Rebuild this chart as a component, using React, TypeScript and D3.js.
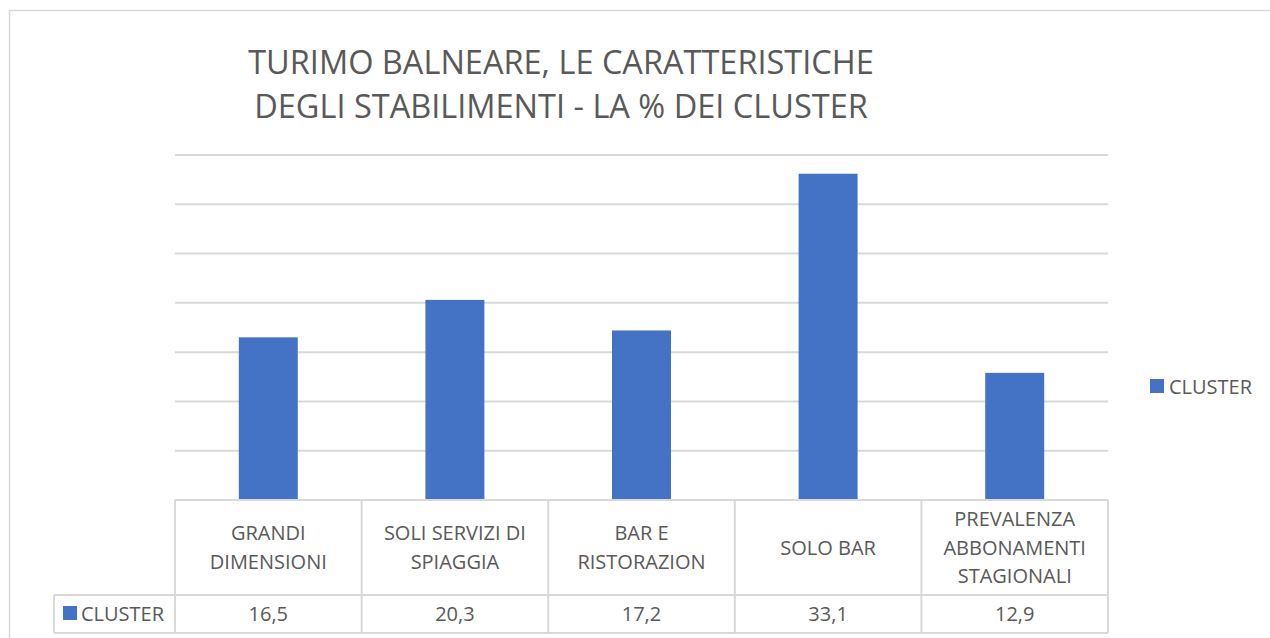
import React, { useEffect, useRef } from 'react';
import * as d3 from 'd3';

const categories = [
  ['GRANDI', 'DIMENSIONI'],
  ['SOLI SERVIZI DI', 'SPIAGGIA'],
  ['BAR E', 'RISTORAZION'],
  ['SOLO BAR'],
  ['PREVALENZA', 'ABBONAMENTI', 'STAGIONALI'],
];
const clusterValues = [16.5, 20.3, 17.2, 33.1, 12.9];
const seriesName = 'CLUSTER';
const titleLines = ['TURIMO BALNEARE, LE CARATTERISTICHE', 'DEGLI STABILIMENTI - LA % DEI CLUSTER'];
const yTicks = [0, 5, 10, 15, 20, 25, 30, 35];

const W = 1270;
const H = 638;
const FONT = "'Open Sans', 'DejaVu Sans', sans-serif";
const TEXT = '#595959';
const GRID = '#d9d9d9';
const BAR = '#4472c4';

export default function App() {
  const svgRef = useRef<SVGSVGElement>(null);

  useEffect(() => {
    if (!svgRef.current) return;
    const svg = d3.select(svgRef.current);
    svg.selectAll('*').remove();

    const plot = { left: 175, right: 1108, top: 155, bottom: 500 };
    const tableBottom = 633;
    const valueRowTop = 595;

    // outer chart border
    svg.append('rect')
      .attr('x', 9.5).attr('y', 10.5)
      .attr('width', W + 20).attr('height', H + 20)
      .attr('fill', '#fff').attr('stroke', GRID).attr('stroke-width', 1.5);

    // title
    svg.append('g').selectAll('text')
      .data(titleLines)
      .enter().append('text')
      .attr('x', 561)
      .attr('y', (d, i) => 74 + i * 44)
      .attr('text-anchor', 'middle')
      .style('font-family', FONT)
      .style('font-size', '32.5px')
      .attr('fill', TEXT)
      .text(d => d);

    const x = d3.scaleBand<number>()
      .domain(d3.range(categories.length))
      .range([plot.left, plot.right])
      .paddingInner(0)
      .paddingOuter(0);

    const y = d3.scaleLinear().domain([0, 35]).range([plot.bottom, plot.top]);

    // gridlines
    svg.append('g').selectAll('line')
      .data(yTicks)
      .enter().append('line')
      .attr('x1', plot.left).attr('x2', plot.right)
      .attr('y1', d => y(d)).attr('y2', d => y(d))
      .attr('stroke', GRID).attr('stroke-width', 2);

    // bars
    const barW = x.bandwidth() * 0.316;
    svg.append('g').selectAll('rect')
      .data(clusterValues)
      .enter().append('rect')
      .attr('x', (d, i) => (x(i) as number) + (x.bandwidth() - barW) / 2)
      .attr('y', d => y(d))
      .attr('width', barW)
      .attr('height', d => y(0) - y(d))
      .attr('fill', BAR);

    // data table
    const t = svg.append('g')
      .attr('stroke', GRID).attr('stroke-width', 2).attr('fill', 'none');
    t.append('line').attr('x1', plot.left).attr('x2', plot.right)
      .attr('y1', plot.bottom).attr('y2', plot.bottom);
    t.append('line').attr('x1', 54).attr('x2', plot.right)
      .attr('y1', valueRowTop).attr('y2', valueRowTop);
    t.append('line').attr('x1', 54).attr('x2', plot.right)
      .attr('y1', tableBottom).attr('y2', tableBottom);
    t.append('line').attr('x1', 54).attr('x2', 54)
      .attr('y1', valueRowTop).attr('y2', tableBottom);
    t.selectAll('.vline')
      .data(d3.range(categories.length + 1))
      .enter().append('line')
      .attr('x1', i => i < categories.length ? (x(i) as number) : plot.right)
      .attr('x2', i => i < categories.length ? (x(i) as number) : plot.right)
      .attr('y1', plot.bottom).attr('y2', tableBottom);

    const catMid = (plot.bottom + valueRowTop) / 2;
    const lineH = 28.5;
    const cat = svg.append('g').selectAll('text')
      .data(categories)
      .enter().append('text')
      .attr('text-anchor', 'middle')
      .style('font-family', FONT)
      .style('font-size', '20px')
      .attr('fill', TEXT);
    cat.each(function (lines, i) {
      const el = d3.select(this);
      const cx = (x(i) as number) + x.bandwidth() / 2;
      lines.forEach((ln, k) => {
        el.append('tspan')
          .attr('x', cx)
          .attr('y', catMid + 7 + (k - (lines.length - 1) / 2) * lineH)
          .text(ln);
      });
    });

    const fmt = (v: number) => d3.format('.1f')(v).replace('.', ',');
    svg.append('g').selectAll('text')
      .data(clusterValues)
      .enter().append('text')
      .attr('x', (d, i) => (x(i) as number) + x.bandwidth() / 2)
      .attr('y', 621)
      .attr('text-anchor', 'middle')
      .style('font-family', FONT)
      .style('font-size', '20px')
      .attr('fill', TEXT)
      .text(d => fmt(d));

    // row header
    svg.append('rect').attr('x', 63).attr('y', 606).attr('width', 14).attr('height', 14).attr('fill', BAR);
    svg.append('text').attr('x', 81).attr('y', 621)
      .style('font-family', FONT).style('font-size', '20px').attr('fill', TEXT)
      .text(seriesName);

    // legend
    svg.append('rect').attr('x', 1150).attr('y', 379).attr('width', 14).attr('height', 14).attr('fill', BAR);
    svg.append('text').attr('x', 1169).attr('y', 394)
      .style('font-family', FONT).style('font-size', '20px').attr('fill', TEXT)
      .text(seriesName);
  }, []);

  return (
    <div style={{ position: 'fixed', left: 0, top: 0, width: W, height: H, background: '#fff' }}>
      <svg ref={svgRef} width={W} height={H} viewBox={`0 0 ${W} ${H}`}></svg>
    </div>
  );
}
